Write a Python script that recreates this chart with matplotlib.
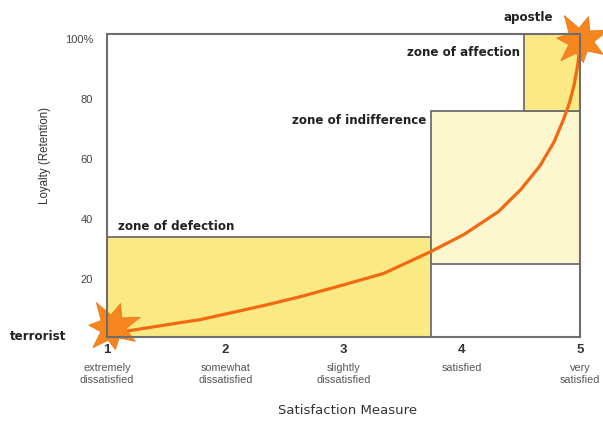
import matplotlib
matplotlib.use("Agg")
import numpy as np
from matplotlib import pyplot as plt
from matplotlib.patches import Rectangle
from matplotlib.path import Path

# satisfaction scale
x_ticks = [1, 2, 3, 4, 5]
x_descr = ["extremely\ndissatisfied", "somewhat\ndissatisfied", "slightly\ndissatisfied",
           "satisfied", "very\nsatisfied"]
y_ticks = [20, 40, 60, 80, 100]
y_labels = ["20", "40", "60", "80", "100%"]

# zones
zone_names = ["zone of defection", "zone of indifference", "zone of affection"]
zone_x0 = [1.0, 3.74, 4.53]
zone_x1 = [3.74, 5.0, 5.0]
zone_y0 = [0, 25, 76]
zone_y1 = [34, 76, 102]
zone_colors = ["#fbea84", "#fdf7cf", "#fce985"]

# loyalty curve
curve_x = [1.07, 1.22, 1.62, 1.79, 2.36, 2.64, 2.92, 3.34, 3.74, 4.02, 4.31, 4.5, 4.66,
           4.78, 4.86, 4.91, 4.95, 4.98, 5.0]
curve_y = [2.0, 2.8, 5.3, 6.3, 11.3, 14.0, 17.0, 21.7, 29.0, 34.7, 42.3, 49.7, 57.5,
           65.5, 73.0, 78.5, 84.5, 91.0, 97.5]

fig = plt.figure(figsize=(6.03, 4.21), dpi=100)
ax = fig.add_axes([0.1774, 0.1995, 0.7845, 0.7197])
ax.set_xlim(1, 5)
ax.set_ylim(0.5, 101.5)

edge = "#6e6e6e"
for i in range(len(zone_names)):
    ax.add_patch(Rectangle((zone_x0[i], zone_y0[i]), zone_x1[i] - zone_x0[i],
                           zone_y1[i] - zone_y0[i], facecolor=zone_colors[i],
                           edgecolor=edge, lw=1.3, zorder=1))

bold = dict(fontweight="bold", color="#222222", fontsize=8.6, family="DejaVu Sans")
ax.text(zone_x0[0] + 0.09, zone_y1[0] + 1.2, zone_names[0], ha="left", va="bottom", **bold)
ax.text(zone_x0[1] - 0.04, zone_y1[1] - 3.2, zone_names[1], ha="right", va="center", **bold)
ax.text(zone_x0[2] - 0.04, 95.5, zone_names[2], ha="right", va="center", **bold)

ax.plot(curve_x, curve_y, color="#f26912", lw=2.3, solid_capstyle="round",
        solid_joinstyle="round", zorder=3, clip_on=False)

# irregular burst marker
ang = np.linspace(0, 2 * np.pi, 15)[:-1] + 0.35
rad = np.array([1.0, 0.45, 0.85, 0.42, 1.0, 0.45, 0.8, 0.42, 0.95, 0.45, 0.75, 0.42, 0.9, 0.45])
verts = np.column_stack([rad * np.cos(ang), rad * np.sin(ang)])
verts = np.vstack([verts, verts[:1]])
burst = Path(verts, closed=True)

for px, py in [(curve_x[0] - 0.03, curve_y[0] + 1.8), (curve_x[-1], curve_y[-1] + 2.0)]:
    ax.plot([px], [py], marker=burst, markersize=40, color="#f7861e", mec="#ee7512",
            mew=0.6, zorder=4, clip_on=False, ls="none")

fig.text(10 / 603, 1 - 337 / 421, "terrorist", ha="left", va="center", **bold)
fig.text(528 / 603, 1 - 18 / 421, "apostle", ha="center", va="center", **bold)

for s in ax.spines.values():
    s.set_color(edge)
    s.set_linewidth(1.5)
    s.set_zorder(5)

ax.set_xticks(x_ticks)
ax.set_xticklabels([str(v) for v in x_ticks], fontsize=9.5, color="#333333", fontweight="bold",
                   family="Liberation Sans")
ax.set_yticks(y_ticks)
ax.set_yticklabels(y_labels, fontsize=8, color="#444444", family="Liberation Sans")
ax.tick_params(length=0, pad=10)
ax.tick_params(axis="x", pad=5)

for xv, d in zip(x_ticks, x_descr):
    ax.text(xv, -8.3, d, ha="center", va="top", fontsize=7.8, color="#555555",
            family="Liberation Sans", linespacing=1.25)

fig.text(45 / 603, 1 - 156 / 421, "Loyalty (Retention)", rotation=90, ha="center", va="center",
         fontsize=8.3, color="#333333", family="Liberation Sans")
fig.text(348 / 603, 1 - 411 / 421, "Satisfaction Measure", ha="center", va="center",
         fontsize=9.5, color="#333333", family="DejaVu Sans")

fig.savefig("out.png", dpi=100)
